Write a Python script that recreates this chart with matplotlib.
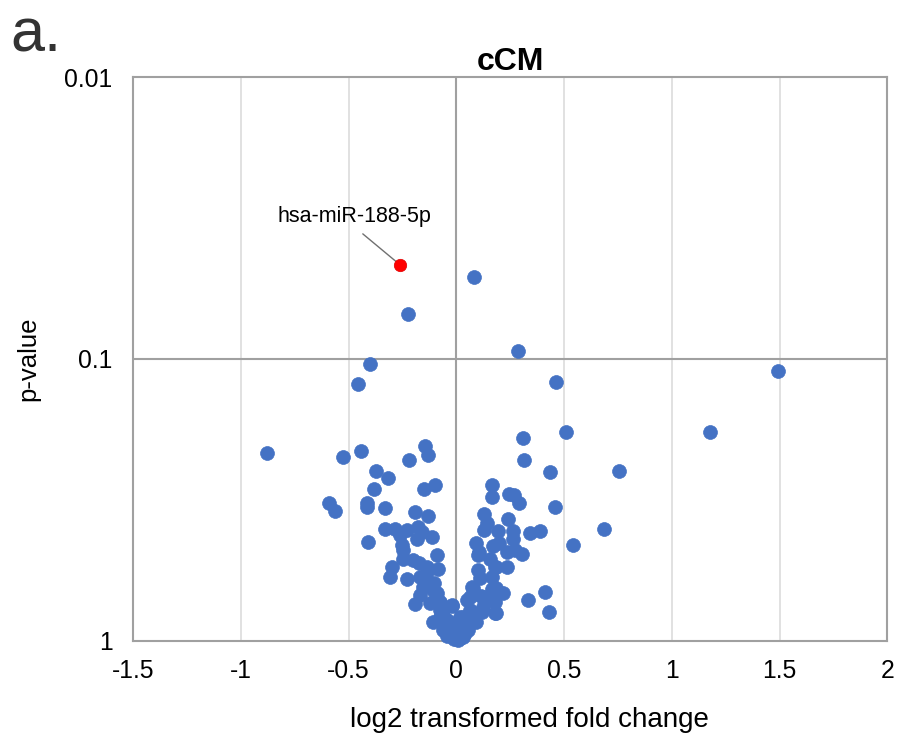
import matplotlib
matplotlib.use("Agg")
import matplotlib.pyplot as plt
from matplotlib.ticker import FixedLocator, NullLocator

plt.rcParams['font.family'] = ['Liberation Sans', 'DejaVu Sans']

# highlighted miRNA
hl_name = 'hsa-miR-188-5p'
hl_fc = [-0.262]
hl_p = [0.0463]

# log2 fold change of the other miRNAs
fold_change = [
    0.080, -0.225, 0.285, -0.400, -0.457, 0.462, 1.492, 1.177, 0.509, 0.308,
    0.315, 0.436, 0.756, -0.879, -0.526, -0.444, -0.144, -0.132, -0.220, -0.375,
    -0.318, -0.098, -0.152, -0.383, 0.167, 0.167, 0.246, 0.267, 0.291, 0.456,
    0.130, 0.141, 0.240, 0.130, 0.195, 0.264, 0.264, 0.340, 0.389, 0.685,
    0.540, 0.091, 0.171, 0.199, 0.106, 0.156, 0.233, 0.272, 0.303, 0.184,
    0.233, 0.101, 0.164, 0.110, 0.076, 0.164, 0.215, 0.334, 0.411, 0.430,
    0.184, 0.048, 0.063, 0.125, 0.032, 0.100, 0.177, 0.072, 0.063, 0.125,
    0.179, 0.179, 0.072, 0.016, -0.022, -0.007, -0.030, 0.025, 0.002, -0.045,
    0.048, -0.061, -0.077, -0.077, -0.591, -0.564, -0.416, -0.416, -0.331, -0.192,
    -0.130, -0.331, -0.285, -0.231, -0.177, -0.161, -0.262, -0.115, -0.181, -0.412,
    -0.254, -0.247, -0.091, -0.247, -0.200, -0.300, -0.138, -0.084, -0.308, -0.231,
    -0.169, -0.153, -0.169, -0.091, -0.192, -0.123, -0.077, -0.022, -0.107, -0.045,
    -0.007, -0.061, -0.146, -0.123, -0.107, -0.091, -0.077, -0.061, -0.030, -0.014,
    -0.173, -0.136, -0.104, -0.067, -0.039, 0.008, 0.032, 0.055, 0.092, 0.120,
    0.148, 0.185, 0.113, 0.067, -0.010, 0.015, -0.025, 0.040,
]

# p-values of the other miRNAs
p_value = [
    0.0512, 0.0692, 0.0940, 0.104, 0.123, 0.121, 0.110, 0.182, 0.182, 0.190,
    0.228, 0.252, 0.249, 0.215, 0.223, 0.213, 0.203, 0.220, 0.228, 0.249,
    0.264, 0.281, 0.290, 0.290, 0.279, 0.308, 0.301, 0.305, 0.325, 0.334,
    0.356, 0.381, 0.371, 0.405, 0.408, 0.408, 0.434, 0.414, 0.408, 0.400,
    0.457, 0.449, 0.463, 0.451, 0.483, 0.511, 0.483, 0.476, 0.492, 0.546,
    0.548, 0.561, 0.596, 0.600, 0.652, 0.658, 0.679, 0.718, 0.670, 0.792,
    0.796, 0.718, 0.778, 0.757, 0.822, 0.497, 0.546, 0.643, 0.698, 0.698,
    0.728, 0.800, 0.822, 0.822, 0.753, 0.891, 0.916, 0.916, 0.979, 0.966,
    0.867, 0.867, 0.822, 0.736, 0.325, 0.346, 0.324, 0.336, 0.337, 0.348,
    0.361, 0.401, 0.401, 0.405, 0.394, 0.410, 0.422, 0.428, 0.434, 0.448,
    0.457, 0.476, 0.497, 0.511, 0.518, 0.546, 0.546, 0.558, 0.593, 0.605,
    0.593, 0.643, 0.689, 0.679, 0.741, 0.736, 0.778, 0.746, 0.855, 0.843,
    0.942, 0.916, 0.610, 0.634, 0.661, 0.708, 0.728, 0.811, 0.867, 0.904,
    0.530, 0.570, 0.624, 0.791, 0.857, 0.995, 0.968, 0.916, 0.857, 0.791,
    0.718, 0.650, 0.695, 0.791, 0.985, 0.975, 0.955, 0.940,
]

x_ticks = [-1.5, -1, -0.5, 0, 0.5, 1, 1.5, 2]
x_labels = ['-1.5', '-1', '-0.5', '0', '0.5', '1', '1.5', '2']
y_ticks = [0.01, 0.1, 1]
y_labels = ['0.01', '0.1', '1']

blue = '#4472C4'
grid_c = '#D9D9D9'
axis_c = '#A0A0A0'

fig = plt.figure(figsize=(8.98, 7.4), dpi=100)
ax = fig.add_axes([0.1484, 0.1342, 0.8396, 0.7614])

ax.set_yscale('log')
ax.set_xlim(-1.5, 2)
ax.set_ylim(1, 0.01)

for xv in x_ticks:
    if xv == 0:
        ax.axvline(xv, color=axis_c, lw=1.5, zorder=1)
    else:
        ax.axvline(xv, color=grid_c, lw=1.1, zorder=0)
ax.axhline(0.1, color=axis_c, lw=1.5, zorder=1)

ax.scatter(fold_change, p_value, s=100, color=blue, edgecolors=blue,
           linewidths=0.5, zorder=3, clip_on=False)
ax.scatter(hl_fc, hl_p, s=80, color='#FF0000', edgecolors='#E00000',
           linewidths=0.5, zorder=4)

ax.annotate(hl_name, xy=(hl_fc[0], hl_p[0]), xytext=(-33, 35),
            textcoords='offset points', ha='center', va='center',
            fontsize=15.5,
            arrowprops=dict(arrowstyle='-', color='#707070', lw=1.0,
                            relpos=(0.5, 0), shrinkA=5, shrinkB=3))

ax.xaxis.set_major_locator(FixedLocator(x_ticks))
ax.set_xticklabels(x_labels)
ax.yaxis.set_major_locator(FixedLocator(y_ticks))
ax.yaxis.set_minor_locator(NullLocator())
ax.set_yticklabels(y_labels)
ax.tick_params(axis='both', length=0, labelsize=17.8, colors='black')
ax.tick_params(axis='x', pad=13)
ax.tick_params(axis='y', pad=15)

for sp in ax.spines.values():
    sp.set_color(axis_c)
    sp.set_linewidth(1.5)

ax.set_title('cCM', fontsize=23, fontweight='bold', pad=4)
fig.text(0.59, 0.027, 'log2 transformed fold change', fontsize=20,
         ha='center', va='center')
fig.text(0.032, 0.515, 'p-value', fontsize=18.5, rotation=90,
         ha='center', va='center')
fig.text(0.012, 0.952, 'a.', fontsize=44, ha='left', va='center',
         color='#333333')

fig.savefig('out.png', dpi=100)
